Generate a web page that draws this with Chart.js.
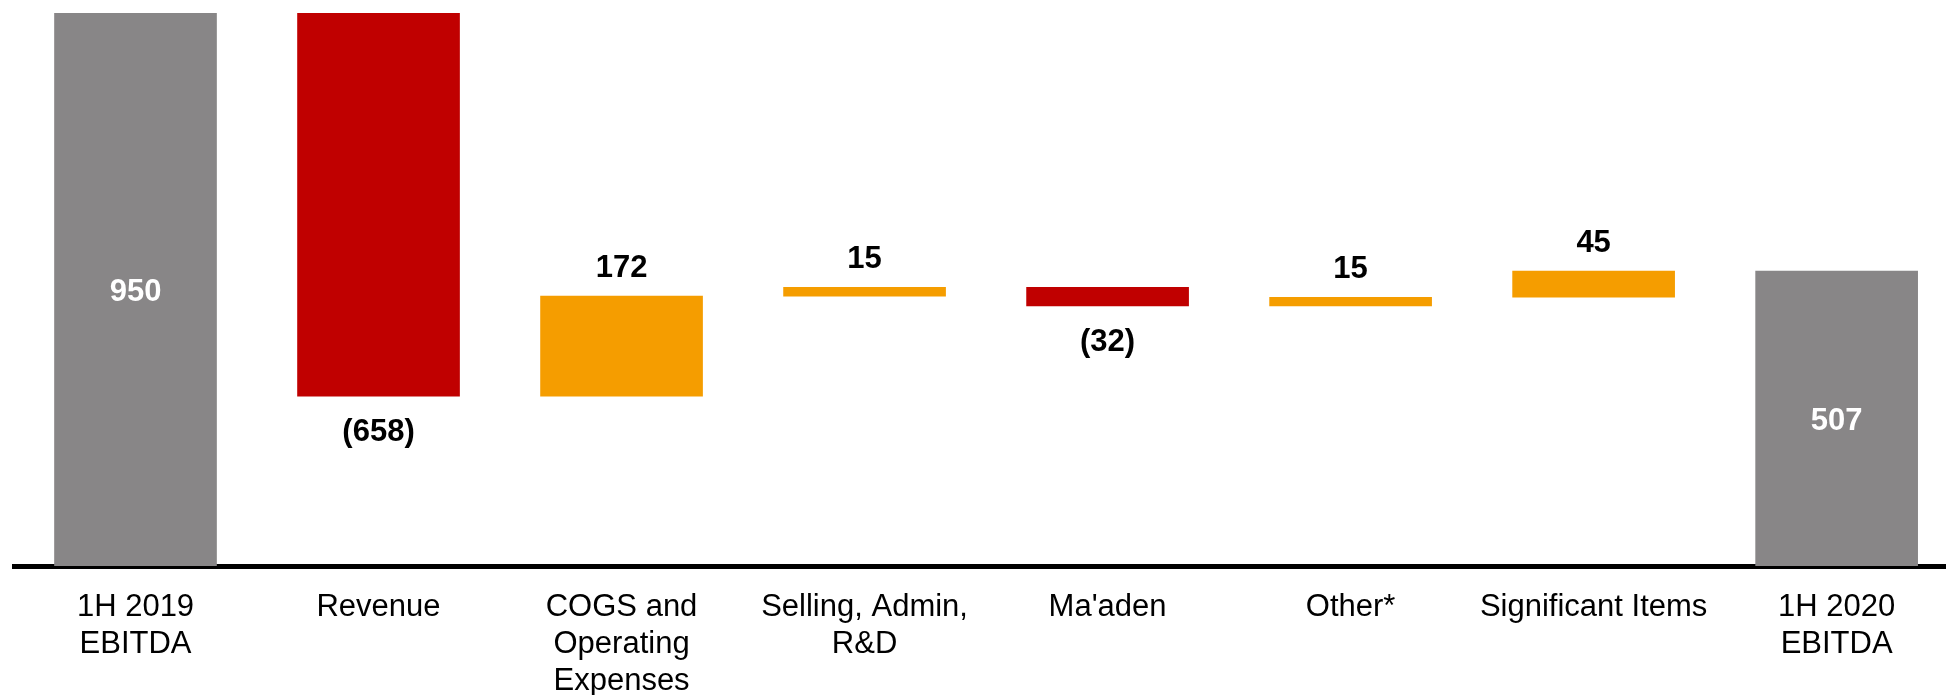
<!DOCTYPE html>
<html>
<head>
<meta charset="utf-8">
<script src="https://cdn.jsdelivr.net/npm/chart.js@4/dist/chart.umd.min.js"></script>
<style>
  html, body { margin: 0; padding: 0; background: #fff; }
  #wrap { width: 1946px; height: 695px; position: relative; }
</style>
</head>
<body>
<div id="wrap"><canvas id="chart"></canvas></div>
<script>
const CATEGORIES = [
  ['1H 2019', 'EBITDA'],
  ['Revenue'],
  ['COGS and', 'Operating', 'Expenses'],
  ['Selling, Admin,', 'R&D'],
  ["Ma'aden"],
  ['Other*'],
  ['Significant Items'],
  ['1H 2020', 'EBITDA'],
];
const VALUES = [950, -658, 172, 15, -32, 15, 45, 507];
const IS_TOTAL = [true, false, false, false, false, false, false, true];

const GREY = '#888687';
const RED = '#c00000';
const ORANGE = '#f59d00';
const FONT = '"Liberation Sans", Arial, sans-serif';

// floating bars for the waterfall
let running = 0;
const ranges = VALUES.map((v, i) => {
  if (IS_TOTAL[i]) {
    running = v;
    return [0, v];
  }
  const start = running;
  running += v;
  return [start, running];
});
const colors = VALUES.map((v, i) => (IS_TOTAL[i] ? GREY : v < 0 ? RED : ORANGE));

function fmt(v) {
  return v < 0 ? `(${Math.abs(v)})` : `${v}`;
}

const valueLabels = {
  id: 'valueLabels',
  afterDatasetsDraw(chart) {
    const ctx = chart.ctx;
    const meta = chart.getDatasetMeta(0);
    ctx.save();
    ctx.font = `bold 31px ${FONT}`;
    ctx.textAlign = 'center';
    ctx.textBaseline = 'alphabetic';
    meta.data.forEach((bar, i) => {
      const top = Math.min(bar.y, bar.base);
      const bottom = Math.max(bar.y, bar.base);
      const v = VALUES[i];
      if (IS_TOTAL[i]) {
        ctx.fillStyle = '#ffffff';
        ctx.fillText(fmt(v), bar.x, (top + bottom) / 2 + 11);
      } else if (v < 0) {
        ctx.fillStyle = '#000000';
        ctx.fillText(fmt(v), bar.x, bottom + 45);
      } else {
        ctx.fillStyle = '#000000';
        ctx.fillText(fmt(v), bar.x, top - 19);
      }
    });
    ctx.restore();
  },
};

new Chart(document.getElementById('chart'), {
  type: 'bar',
  data: {
    datasets: [
      {
        data: ranges.map((r, i) => ({ x: i, y: r })),
        backgroundColor: colors,
        borderWidth: 0,
        barThickness: 162,
      },
    ],
  },
  options: {
    responsive: true,
    maintainAspectRatio: false,
    animation: false,
    layout: { padding: { left: 14, right: 0, top: 0, bottom: 0 } },
    plugins: {
      legend: { display: false },
      tooltip: { enabled: false },
    },
    scales: {
      x: {
        type: 'linear',
        min: -0.5,
        max: 7.45,
        offset: false,
        z: 1,
        grid: { display: false, offset: false },
        border: { display: true, color: '#000000', width: 5 },
        afterBuildTicks: (scale) => {
          scale.ticks = CATEGORIES.map((c, i) => ({ value: i }));
        },
        afterFit: (scale) => {
          scale.height = 129;
        },
        ticks: {
          autoSkip: false,
          maxRotation: 0,
          minRotation: 0,
          padding: 15,
          color: '#000000',
          font: { family: FONT, size: 31, lineHeight: 1.19 },
          callback: (value, index) => CATEGORIES[index],
        },
      },
      y: {
        display: false,
        min: 0,
        max: 973,
      },
    },
  },
  plugins: [valueLabels],
});
</script>
</body>
</html>
